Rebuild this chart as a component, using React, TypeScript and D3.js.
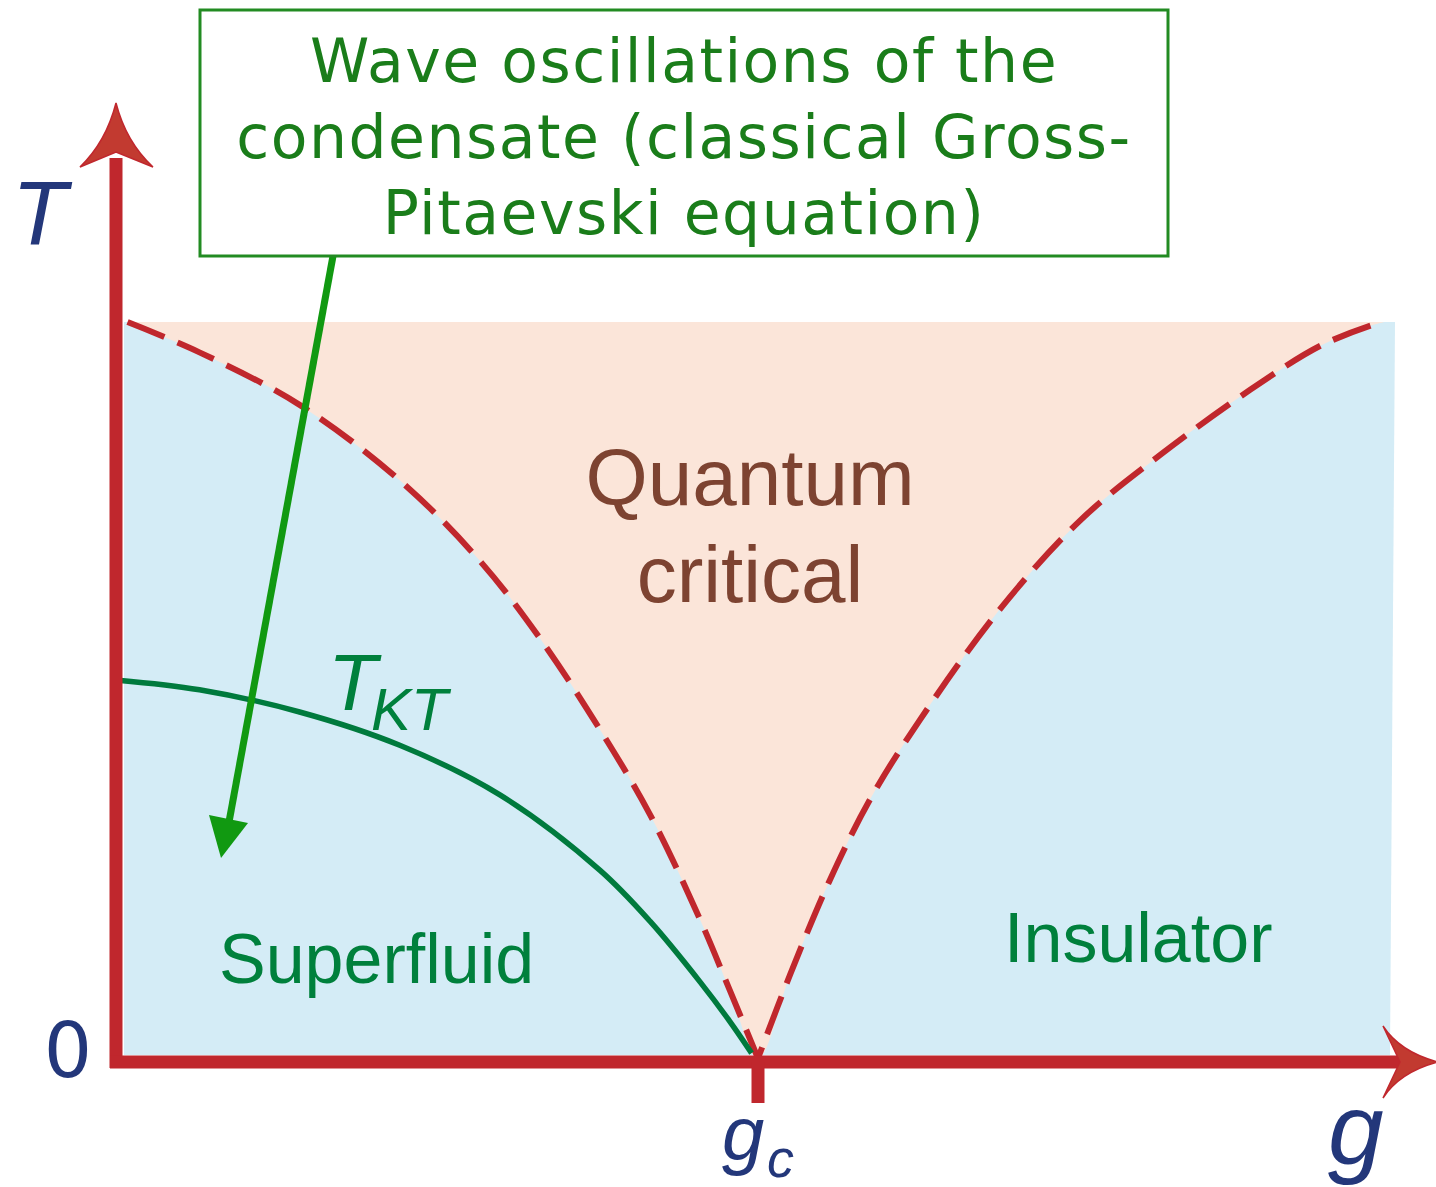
import React from "react";
import * as d3 from "d3";

// Phase boundaries (g, T) in normalized units: gc = 0.5, T from 0 to 1
const leftCrossover: [number, number][] = [
  [0.009, 1.0], [0.065, 0.959], [0.143, 0.888], [0.221, 0.786], [0.283, 0.678],
  [0.33, 0.573], [0.377, 0.449], [0.416, 0.334], [0.455, 0.192], [0.478, 0.097], [0.5, 0.005],
];
const rightCrossover: [number, number][] = [
  [0.5, 0.005], [0.525, 0.118], [0.556, 0.246], [0.587, 0.354], [0.626, 0.462],
  [0.688, 0.611], [0.751, 0.732], [0.813, 0.82], [0.883, 0.908], [0.938, 0.968], [0.977, 0.995],
];
const tktCurve: [number, number][] = [
  [0.0016, 0.516], [0.065, 0.503], [0.143, 0.473], [0.221, 0.428], [0.299, 0.361],
  [0.377, 0.259], [0.416, 0.19], [0.455, 0.108], [0.478, 0.055], [0.495, 0.012],
];
const calloutLines = ["Wave oscillations of the", "condensate (classical Gross-", "Pitaevski equation)"];
const criticalLabel = ["Quantum", "critical"];
const gc = 0.5;

const W = 1436;
const H = 1187;
const RED = "#c0272d";
const NAVY = "#23377a";
const DARKGREEN = "#00803c";

export default function App() {
  const x = d3.scaleLinear().domain([0, 1]).range([116, 1400]);
  const y = d3.scaleLinear().domain([0, 1]).range([1062, 322]);

  const curve = d3.line<[number, number]>().x(d => x(d[0])).y(d => y(d[1])).curve(d3.curveCatmullRom.alpha(0.5));

  // peach region polygon (area between the two crossover lines up to T=1)
  const peachPts: [number, number][] = [...leftCrossover, ...rightCrossover.slice(1), [0.988, 1.0]];
  const peach = d3.line<[number, number]>().x(d => x(d[0])).y(d => y(d[1])).curve(d3.curveCatmullRom.alpha(0.5))(peachPts) + "Z";

  const x0 = x(0), y0 = y(0);
  const xg = x(gc);

  return (
    <svg width={W} height={H} style={{ position: "absolute", left: 0, top: 0, background: "#fff" }}>
      {/* regions */}
      <path d={`M${x0 + 8},${y(1)} L1395,${y(1)} L1390,${y0 - 7} L${x0 + 8},${y0 - 7} Z`} fill="#d4ecf6" />
      <path d={peach} fill="#fbe5d9" />

      {/* crossover lines */}
      <path d={curve(leftCrossover) || ""} fill="none" stroke={RED} strokeWidth={6} strokeDasharray="40 14" />
      <path d={curve(rightCrossover.slice().reverse()) || ""} fill="none" stroke={RED} strokeWidth={6} strokeDasharray="40 14" />

      {/* TKT line */}
      <path d={curve(tktCurve) || ""} fill="none" stroke="#007a3d" strokeWidth={5.5} />

      {/* axes */}
      <line x1={x0} y1={y0 + 6} x2={x0} y2={158} stroke={RED} strokeWidth={13} />
      <path d={`M${x0},103 Q${x0 + 10},142 ${x0 + 37},167 L${x0},152 L${x0 - 36},167 Q${x0 - 10},142 ${x0},103 Z`} fill="#c23a30" stroke={RED} strokeWidth={1.5} />
      <line x1={x0 - 6} y1={y0} x2={1402} y2={y0} stroke={RED} strokeWidth={13} />
      <path d={`M1438,${y0} Q1400,${y0 - 10} 1383,${y0 - 36} L1400,${y0} L1383,${y0 + 36} Q1400,${y0 + 10} 1438,${y0} Z`} fill="#c23a30" stroke={RED} strokeWidth={1.5} />
      <line x1={xg} y1={y0} x2={xg} y2={1103} stroke={RED} strokeWidth={13} />

      {/* axis labels */}
      <text x={12} y={245} fontFamily="Liberation Sans, Arial, sans-serif" fontStyle="italic" fontSize={90} fill={NAVY}>T</text>
      <text x={68} y={1077} textAnchor="middle" fontFamily="DejaVu Sans, sans-serif" fontSize={76} fill={NAVY}>0</text>
      <text x={722} y={1160} fontFamily="Liberation Sans, Arial, sans-serif" fontStyle="italic" fontSize={76} fill={NAVY}>g</text>
      <text x={767} y={1177} fontFamily="Liberation Sans, Arial, sans-serif" fontStyle="italic" fontSize={54} fill={NAVY}>c</text>
      <text x={1328} y={1164} fontFamily="Liberation Sans, Arial, sans-serif" fontStyle="italic" fontSize={100} fill={NAVY}>g</text>

      {/* region labels */}
      <text textAnchor="middle" fontFamily="Liberation Sans, Arial, sans-serif" fontSize={80} fill="#7d4331">
        <tspan x={750} y={505}>{criticalLabel[0]}</tspan>
        <tspan x={750} y={602}>{criticalLabel[1]}</tspan>
      </text>
      <text x={219} y={983} fontFamily="Liberation Sans, Arial, sans-serif" fontSize={70} fill={DARKGREEN}>Superfluid</text>
      <text x={1004} y={962} fontFamily="Liberation Sans, Arial, sans-serif" fontSize={70} fill={DARKGREEN}>Insulator</text>
      <text x={328} y={710} fontFamily="Liberation Sans, Arial, sans-serif" fontStyle="italic" fontSize={80} fill={DARKGREEN}>T</text>
      <text x={371} y={730} fontFamily="Liberation Sans, Arial, sans-serif" fontStyle="italic" fontSize={60} fill={DARKGREEN}>KT</text>

      {/* callout */}
      <line x1={333} y1={256} x2={229} y2={822} stroke="#119911" strokeWidth={7} />
      <path d="M221,858 L209,815 L248,823 Z" fill="#119911" />
      <rect x={200} y={10} width={968} height={246} fill="#fff" stroke="#228b22" strokeWidth={3} />
      <text textAnchor="middle" fontFamily="DejaVu Sans, sans-serif" fontSize={60} letterSpacing={1.5} fill="#1a7d1a">
        {calloutLines.map((l, i) => (
          <tspan key={i} x={684} y={82 + i * 76}>{l}</tspan>
        ))}
      </text>
    </svg>
  );
}
